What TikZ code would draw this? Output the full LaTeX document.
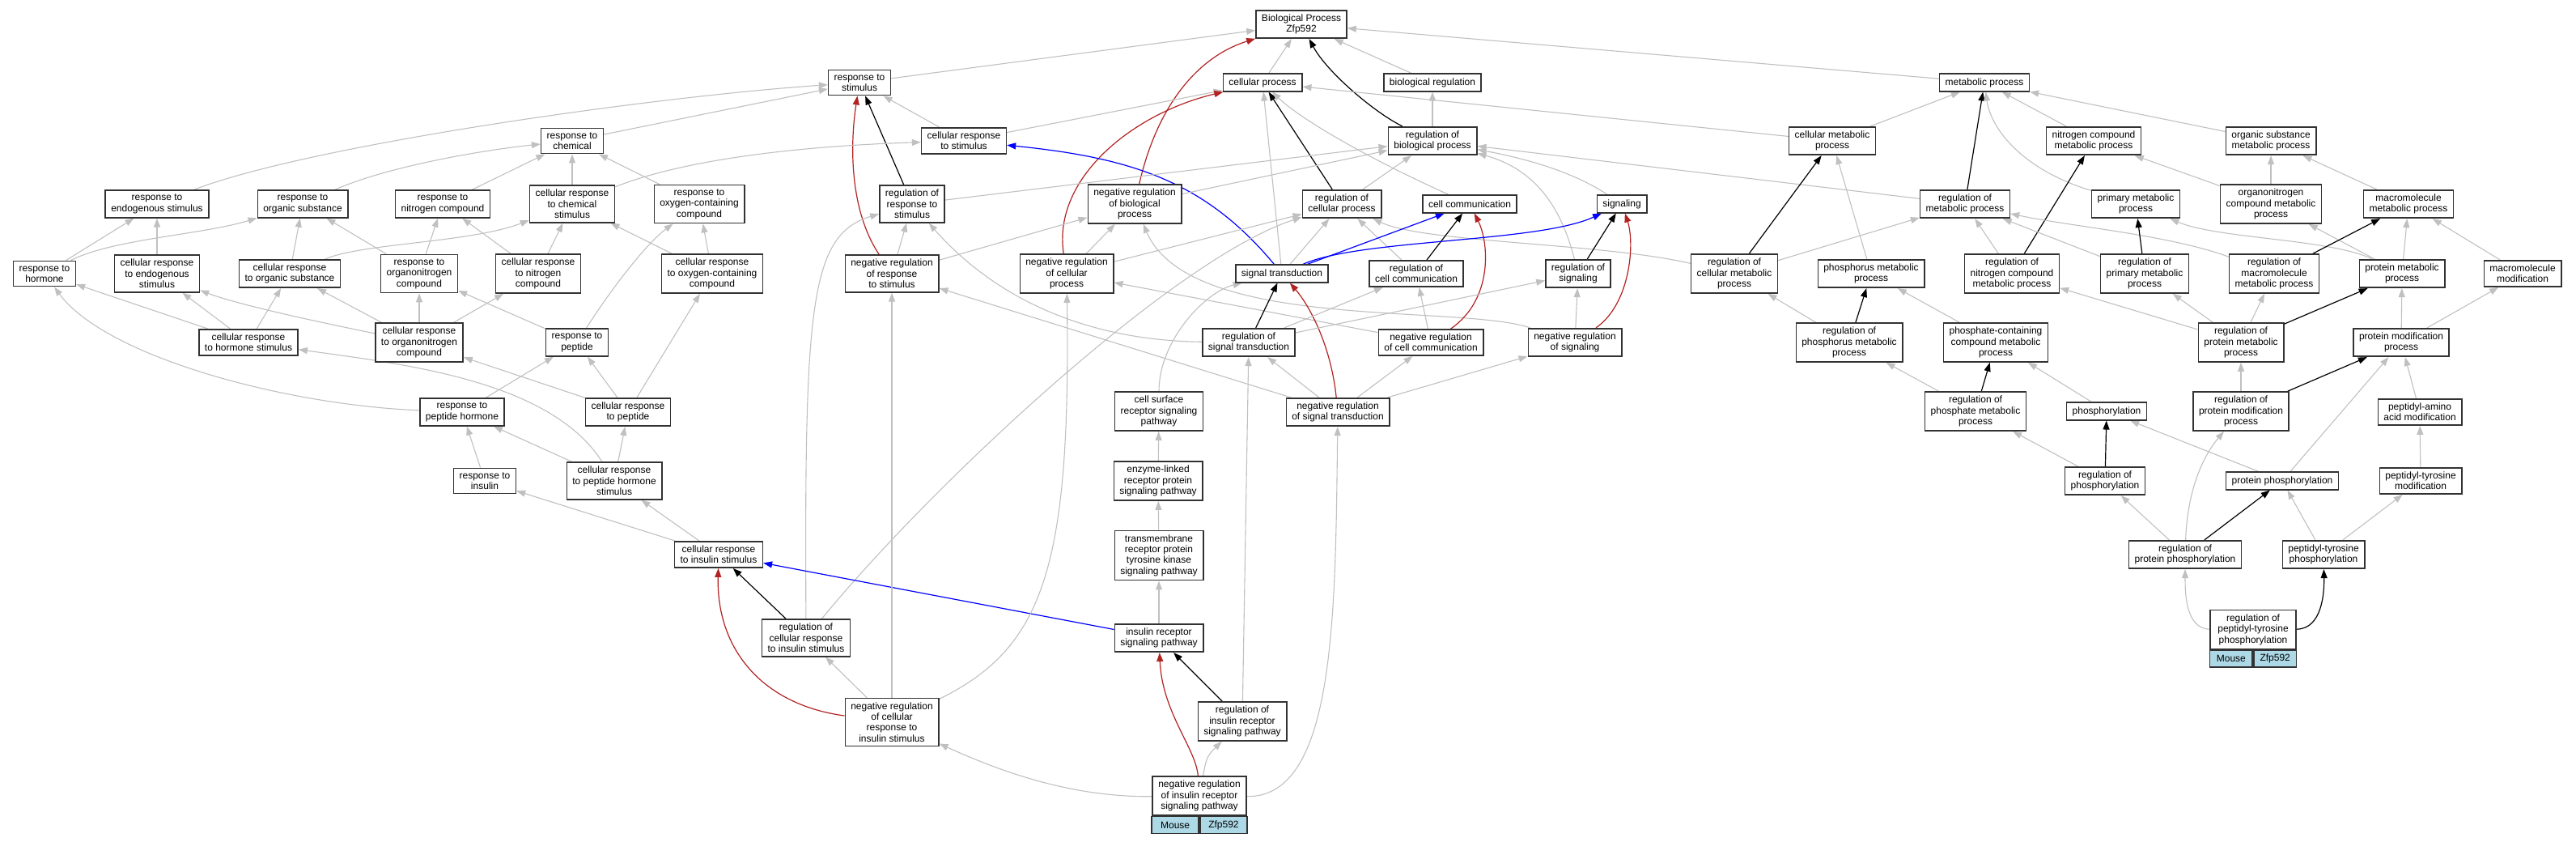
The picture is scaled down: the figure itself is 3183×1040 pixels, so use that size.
\documentclass[tikz,border=0pt]{standalone}
\usepackage{fontspec}
\setmainfont{Liberation Sans}
\usetikzlibrary{arrows.meta,backgrounds}
\definecolor{isagray}{RGB}{192,192,192}
\definecolor{negred}{RGB}{178,34,34}
\definecolor{genebg}{RGB}{173,216,230}
\definecolor{boxline}{RGB}{50,50,50}

\begin{document}
\begin{tikzpicture}[x=1pt,y=-1pt,
  term/.style={draw=boxline,line width=1.6pt,fill=white,align=center,inner xsep=7pt,inner ysep=5pt,minimum height=21.5pt,font=\fontsize{12}{13.4}\selectfont},
  gene/.style={draw=boxline,line width=1.6pt,fill=genebg,inner sep=0pt,minimum height=21pt,font=\fontsize{12}{13.4}\selectfont},
  isa/.style={draw=isagray,line width=1.1pt,-{Triangle[length=11pt,width=8pt]}},
  reg/.style={draw=black,line width=1.2pt,-{Triangle[length=11pt,width=8pt]}},
  negreg/.style={draw=negred,line width=1.2pt,-{Triangle[length=11pt,width=8pt]}},
  partof/.style={draw=blue,line width=1.2pt,-{Triangle[length=11pt,width=8pt]}}]
\useasboundingbox (0,0) rectangle (3183,1040);

\node[term] (bp) at (1608,30) {Biological Process\\Zfp592};

\node[term] (rs) at (1062,102) {response to\\stimulus};
\node[term] (cp) at (1560,102) {cellular process};
\node[term] (br) at (1770,102) {biological regulation};
\node[term] (mp) at (2452,102) {metabolic process};

\node[term] (rc) at (707,174) {response to\\chemical};
\node[term] (crs) at (1191,174) {cellular response\\to stimulus};
\node[term] (rbp) at (1770,174) {regulation of\\biological process};
\node[term] (cmp) at (2264,174) {cellular metabolic\\process};
\node[term] (ncmp) at (2587,174) {nitrogen compound\\metabolic process};
\node[term] (osmp) at (2806,174) {organic substance\\metabolic process};

\node[term] (res) at (194,252) {response to\\endogenous stimulus};
\node[term] (ros) at (374,252) {response to\\organic substance};
\node[term] (rnc) at (547,252) {response to\\nitrogen compound};
\node[term] (crcs) at (707,252) {cellular response\\to chemical\\stimulus};
\node[term] (rocc) at (864,252) {response to\\oxygen-containing\\compound};
\node[term] (rrs) at (1127,252) {regulation of\\response to\\stimulus};
\node[term] (nrbp) at (1402,252) {negative regulation\\of biological\\process};
\node[term] (rcp) at (1658,252) {regulation of\\cellular process};
\node[term] (cc) at (1816,252) {cell communication};
\node[term] (sig) at (2004,252) {signaling};
\node[term] (rmp) at (2428,252) {regulation of\\metabolic process};
\node[term] (pmp) at (2639,252) {primary metabolic\\process};
\node[term] (oncmp) at (2806,252) {organonitrogen\\compound metabolic\\process};
\node[term] (mmp) at (2976,252) {macromolecule\\metabolic process};

\node[term] (rh) at (55,338) {response to\\hormone};
\node[term] (cres) at (194,338) {cellular response\\to endogenous\\stimulus};
\node[term] (cros) at (358,338) {cellular response\\to organic substance};
\node[term] (ronc) at (518,338) {response to\\organonitrogen\\compound};
\node[term] (crnc) at (665,338) {cellular response\\to nitrogen\\compound};
\node[term] (crocc) at (880,338) {cellular response\\to oxygen-containing\\compound};
\node[term] (nrrs) at (1102,338) {negative regulation\\of response\\to stimulus};
\node[term] (nrcp) at (1318,338) {negative regulation\\of cellular\\process};
\node[term] (st) at (1584,338) {signal transduction};
\node[term] (rccomm) at (1750,338) {regulation of\\cell communication};
\node[term] (rsig) at (1950,338) {regulation of\\signaling};
\node[term] (rcmp) at (2143,338) {regulation of\\cellular metabolic\\process};
\node[term] (phmp) at (2312,338) {phosphorus metabolic\\process};
\node[term] (rncmp) at (2486,338) {regulation of\\nitrogen compound\\metabolic process};
\node[term] (rpmp) at (2650,338) {regulation of\\primary metabolic\\process};
\node[term] (rmmp) at (2810,338) {regulation of\\macromolecule\\metabolic process};
\node[term] (prmp) at (2968,338) {protein metabolic\\process};
\node[term] (mm) at (3117,338) {macromolecule\\modification};

\node[term] (crhs) at (307,423) {cellular response\\to hormone stimulus};
\node[term] (cronc) at (518,423) {cellular response\\to organonitrogen\\compound};
\node[term] (rpep) at (713,423) {response to\\peptide};
\node[term] (rst) at (1543,423) {regulation of\\signal transduction};
\node[term] (nrcc) at (1768,423) {negative regulation\\of cell communication};
\node[term] (nrsig) at (1946,423) {negative regulation\\of signaling};
\node[term] (rphmp) at (2285,423) {regulation of\\phosphorus metabolic\\process};
\node[term] (pccmp) at (2466,423) {phosphate-containing\\compound metabolic\\process};
\node[term] (rprmp) at (2769,423) {regulation of\\protein metabolic\\process};
\node[term] (pmod) at (2967,423) {protein modification\\process};

\node[term] (rph) at (571,509) {response to\\peptide hormone};
\node[term] (crpep) at (776,509) {cellular response\\to peptide};
\node[term] (csrsp) at (1432,508) {cell surface\\receptor signaling\\pathway};
\node[term] (nrst) at (1653,509) {negative regulation\\of signal transduction};
\node[term] (rphosm) at (2441,508) {regulation of\\phosphate metabolic\\process};
\node[term] (phos) at (2603,508) {phosphorylation};
\node[term] (rpmod) at (2769,508) {regulation of\\protein modification\\process};
\node[term] (paam) at (2990,509) {peptidyl-amino\\acid modification};

\node[term] (rins) at (599,594) {response to\\insulin};
\node[term] (crphs) at (759,594) {cellular response\\to peptide hormone\\stimulus};
\node[term] (elrp) at (1431,594) {enzyme-linked\\receptor protein\\signaling pathway};
\node[term] (rphos) at (2601,594) {regulation of\\phosphorylation};
\node[term] (pphos) at (2820,594) {protein phosphorylation};
\node[term] (ptm) at (2991,594) {peptidyl-tyrosine\\modification};

\node[term] (cris) at (888,685) {cellular response\\to insulin stimulus};
\node[term] (rtk) at (1432,686) {transmembrane\\receptor protein\\tyrosine kinase\\signaling pathway};
\node[term] (rpphos) at (2700,685) {regulation of\\protein phosphorylation};
\node[term] (ptphos) at (2871,685) {peptidyl-tyrosine\\phosphorylation};

\node[term] (rcris) at (996,788) {regulation of\\cellular response\\to insulin stimulus};
\node[term] (irsp) at (1432,788) {insulin receptor\\signaling pathway};
\node[term,minimum width=105.5pt] (rptphos) at (2784,777.5) {regulation of\\peptidyl-tyrosine\\phosphorylation};
\node[gene,minimum width=52.75pt,anchor=north east] (rptphosm) at (rptphos.south) {Mouse};
\node[gene,minimum width=52.75pt,anchor=north west] (rptphosg) at (rptphos.south) {Zfp592};

\node[term] (nrcris) at (1102,892) {negative regulation\\of cellular\\response to\\insulin stimulus};
\node[term] (rirsp) at (1535,891) {regulation of\\insulin receptor\\signaling pathway};
\node[term,minimum width=116.5pt] (nrirsp) at (1482,983) {negative regulation\\of insulin receptor\\signaling pathway};
\node[gene,minimum width=58.25pt,anchor=north east] (nrirspm) at (nrirsp.south) {Mouse};
\node[gene,minimum width=58.25pt,anchor=north west] (nrirspg) at (nrirsp.south) {Zfp592};

\begin{scope}[on background layer]
\draw[isa] (rs) -- (bp);
\draw[negreg] (nrbp) .. controls (1430,130) and (1480,70) .. (bp);
\draw[isa] (cp) -- (bp);
\draw[reg] (rbp) .. controls (1700,140) and (1640,90) .. (bp);
\draw[isa] (br) -- (bp);
\draw[isa] (mp) -- (bp);

\draw[isa] (res) .. controls (380,180) and (800,120) .. (rs);
\draw[isa] (rc) -- (rs);
\draw[isa] (crs) -- (rs);
\draw[reg] (rrs) -- (rs);
\draw[negreg] (nrrs) .. controls (1050,260) and (1050,180) .. (rs);

\draw[isa] (crs) -- (cp);
\draw[negreg] (nrcp) .. controls (1300,220) and (1400,140) .. (cp);
\draw[reg] (rcp) -- (cp);
\draw[isa] (st) -- (cp);
\draw[isa] (cc) .. controls (1700,200) and (1610,150) .. (cp);
\draw[isa] (cmp) -- (cp);

\draw[isa] (rbp) -- (br);
\draw[isa] (cmp) -- (mp);
\draw[reg] (rmp) -- (mp);
\draw[isa] (pmp) .. controls (2500,210) and (2460,160) .. (mp);
\draw[isa] (ncmp) -- (mp);
\draw[isa] (osmp) -- (mp);

\draw[isa] (ros) .. controls (480,205) and (600,185) .. (rc);
\draw[isa] (rnc) -- (rc);
\draw[isa] (crcs) -- (rc);
\draw[isa] (rocc) -- (rc);
\draw[isa] (crcs) .. controls (850,195) and (1000,180) .. (crs);
\draw[partof] (st) .. controls (1490,225) and (1400,195) .. (crs);
\draw[isa] (rrs) -- (rbp);
\draw[isa] (nrbp) -- (rbp);
\draw[isa] (rcp) -- (rbp);
\draw[isa] (sig) .. controls (1940,210) and (1880,195) .. (rbp);
\draw[isa] (rsig) .. controls (1930,260) and (1900,210) .. (rbp);
\draw[isa] (rmp) -- (rbp);
\draw[isa] (phmp) -- (cmp);
\draw[reg] (rcmp) -- (cmp);
\draw[isa] (oncmp) -- (ncmp);
\draw[reg] (rncmp) -- (ncmp);
\draw[isa] (oncmp) -- (osmp);
\draw[isa] (mmp) -- (osmp);

\draw[isa] (rh) -- (res);
\draw[isa] (cres) -- (res);
\draw[isa] (rh) .. controls (140,295) and (250,290) .. (ros);
\draw[isa] (cros) -- (ros);
\draw[isa] (ronc) -- (ros);
\draw[isa] (ronc) -- (rnc);
\draw[isa] (crnc) -- (rnc);
\draw[isa] (cros) .. controls (450,300) and (580,300) .. (crcs);
\draw[isa] (crnc) -- (crcs);
\draw[isa] (crocc) -- (crcs);
\draw[isa] (crocc) -- (rocc);
\draw[isa] (rpep) .. controls (760,350) and (800,300) .. (rocc);
\draw[isa] (nrrs) -- (rrs);
\draw[isa] (rst) .. controls (1300,420) and (1200,335) .. (rrs);
\draw[isa] (rcris) .. controls (994,380) and (1000,290) .. (rrs);
\draw[isa] (nrrs) -- (nrbp);
\draw[isa] (nrcp) -- (nrbp);
\draw[isa] (nrsig) .. controls (1800,375) and (1470,410) .. (nrbp);
\draw[isa] (nrcp) -- (rcp);
\draw[isa] (rcris) .. controls (1150,600) and (1450,320) .. (rcp);
\draw[isa] (st) -- (rcp);
\draw[isa] (rccomm) -- (rcp);
\draw[isa] (rcmp) .. controls (1980,300) and (1760,300) .. (rcp);
\draw[partof] (st) -- (cc);
\draw[reg] (rccomm) -- (cc);
\draw[negreg] (nrcc) .. controls (1845,370) and (1840,300) .. (cc);
\draw[partof] (st) .. controls (1680,295) and (1900,300) .. (sig);
\draw[reg] (rsig) -- (sig);
\draw[negreg] (nrsig) .. controls (2015,375) and (2020,300) .. (sig);
\draw[isa] (rcmp) -- (rmp);
\draw[isa] (rncmp) -- (rmp);
\draw[isa] (rpmp) -- (rmp);
\draw[isa] (rmmp) .. controls (2680,290) and (2560,280) .. (rmp);
\draw[reg] (rpmp) -- (pmp);
\draw[isa] (prmp) .. controls (2880,295) and (2740,295) .. (pmp);
\draw[isa] (prmp) -- (oncmp);
\draw[reg] (rmmp) -- (mmp);
\draw[isa] (prmp) -- (mmp);
\draw[isa] (mm) -- (mmp);

\draw[isa] (crhs) -- (rh);
\draw[isa] (rph) .. controls (350,500) and (130,440) .. (rh);
\draw[isa] (crhs) -- (cres);
\draw[isa] (cronc) .. controls (380,395) and (290,375) .. (cres);
\draw[isa] (crhs) -- (cros);
\draw[isa] (cronc) -- (cros);
\draw[isa] (cronc) -- (ronc);
\draw[isa] (rpep) -- (ronc);
\draw[isa] (cronc) -- (crnc);
\draw[isa] (crpep) -- (crocc);
\draw[isa] (nrst) -- (nrrs);
\draw[isa] (nrcc) -- (nrcp);
\draw[reg] (rst) -- (st);
\draw[negreg] (nrst) .. controls (1645,430) and (1620,380) .. (st);
\draw[isa] (csrsp) .. controls (1432,420) and (1490,360) .. (st);
\draw[isa] (rst) -- (rccomm);
\draw[isa] (nrcc) -- (rccomm);
\draw[isa] (rst) -- (rsig);
\draw[isa] (nrsig) -- (rsig);
\draw[isa] (rphmp) -- (rcmp);
\draw[reg] (rphmp) -- (phmp);
\draw[isa] (pccmp) -- (phmp);
\draw[isa] (rprmp) -- (rncmp);
\draw[isa] (rprmp) -- (rpmp);
\draw[isa] (rprmp) -- (rmmp);
\draw[reg] (rprmp) -- (prmp);
\draw[isa] (pmod) -- (prmp);
\draw[isa] (pmod) -- (mm);

\draw[isa] (crphs) .. controls (680,470) and (500,450) .. (crhs);
\draw[isa] (crpep) -- (cronc);
\draw[isa] (rph) -- (rpep);
\draw[isa] (crpep) -- (rpep);
\draw[isa] (nrst) -- (rst);
\draw[isa] (nrst) -- (nrcc);
\draw[isa] (nrst) -- (nrsig);
\draw[isa] (rphosm) -- (rphmp);
\draw[reg] (rphosm) -- (pccmp);
\draw[isa] (phos) -- (pccmp);
\draw[isa] (rpmod) -- (rprmp);
\draw[reg] (rpmod) -- (pmod);
\draw[isa] (paam) -- (pmod);
\draw[isa] (pphos) -- (pmod);

\draw[isa] (rins) -- (rph);
\draw[isa] (crphs) -- (rph);
\draw[isa] (crphs) -- (crpep);
\draw[isa] (elrp) -- (csrsp);
\draw[isa] (rphos) -- (rphosm);
\draw[reg] (rphos) -- (phos);
\draw[isa] (pphos) -- (phos);
\draw[isa] (ptm) -- (paam);

\draw[isa] (cris) -- (rins);
\draw[isa] (cris) -- (crphs);
\draw[isa] (rtk) -- (elrp);
\draw[isa] (rpphos) -- (rphos);
\draw[isa] (rpphos) .. controls (2703,600) and (2725,560) .. (rpmod);
\draw[reg] (rpphos) -- (pphos);
\draw[isa] (ptphos) -- (pphos);
\draw[isa] (ptphos) -- (ptm);

\draw[reg] (rcris) -- (cris);
\draw[negreg] (nrcris) .. controls (940,870) and (885,800) .. (cris);
\draw[partof] (irsp) -- (cris);
\draw[isa] (irsp) -- (rtk);
\draw[isa] (rptphos) .. controls (2700,777) and (2700,730) .. (rpphos);
\draw[reg] (rptphos) .. controls (2870,777) and (2872,730) .. (ptphos);

\draw[isa] (nrcris) -- (rcris);
\draw[isa] (nrcris) -- (nrrs);
\draw[isa] (nrcris) .. controls (1290,800) and (1323,700) .. (nrcp);
\draw[reg] (rirsp) -- (irsp);
\draw[isa] (rirsp) -- (rst);

\draw[isa] (nrirsp) .. controls (1320,985) and (1230,950) .. (nrcris);
\draw[negreg] (nrirsp) .. controls (1478,925) and (1436,880) .. (irsp);
\draw[isa] (nrirsp) .. controls (1490,940) and (1490,935) .. (rirsp);
\draw[isa] (nrirsp) .. controls (1650,985) and (1650,760) .. (nrst);
\end{scope}
\end{tikzpicture}
\end{document}
